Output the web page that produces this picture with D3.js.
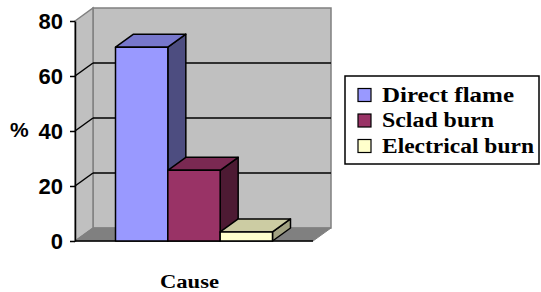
<!DOCTYPE html>
<html>
<head>
<meta charset="utf-8">
<script src="https://cdn.jsdelivr.net/npm/d3@7"></script>
<style>
  body { margin: 0; background: #fff; }
  svg { display: block; }
</style>
</head>
<body>
<div class="chart"></div>
<script>
// data
const categories = ["Cause"];
const seriesNames = ["Direct flame", "Sclad burn", "Electrical burn"];
const seriesValues = [70.5, 25.7, 3.3];
const yTicks = [0, 20, 40, 60, 80];

// colours: front, top, side
var frontCol = ["#9999ff", "#993366", "#ffffcc"];
var topCol = ["#7777cc", "#7a2952", "#cccca3"];
var sideCol = ["#4d4d80", "#4d1a33", "#a3a382"];

var W = 541, H = 292;
var plot = {left: 75, right: 313, top: 21, bottom: 241};
var depth = {dx: 18, dy: -13};

var svg = d3.select(".chart").append("svg")
    .attr("width", W).attr("height", H);

var yScale = d3.scaleLinear().domain([0, 80]).range([plot.bottom, plot.top]);

var xScale = d3.scaleBand().domain(categories)
    .range([plot.left, plot.right])
    .paddingInner(0).paddingOuter(0.258);

var sScale = d3.scaleBand().domain(seriesNames)
    .range([0, xScale.bandwidth()]).padding(0);

function pts(a) { return a.map(function(p){ return p.join(","); }).join(" "); }

// walls
var bx = plot.left + depth.dx, by = plot.top + depth.dy;
var bxr = plot.right + depth.dx, byb = plot.bottom + depth.dy;

svg.append("polygon") // back wall
    .attr("points", pts([[bx, by], [bxr, by], [bxr, byb], [bx, byb]]))
    .attr("fill", "#c0c0c0").attr("stroke", "#808080").attr("stroke-width", 1.5);

svg.append("polygon") // left wall
    .attr("points", pts([[plot.left, plot.top], [bx, by], [bx, byb], [plot.left, plot.bottom]]))
    .attr("fill", "#c0c0c0").attr("stroke", "#808080").attr("stroke-width", 1.5);

svg.append("polygon") // floor
    .attr("points", pts([[plot.left, plot.bottom], [plot.right, plot.bottom], [bxr, byb], [bx, byb]]))
    .attr("fill", "#808080").attr("stroke", "#808080").attr("stroke-width", 1);

// gridlines on back wall + left wall
var grid = yTicks.filter(function(t){ return t > 0 && t < 80; });
svg.selectAll(".gridb").data(grid).enter().append("line")
    .attr("x1", bx).attr("x2", bxr)
    .attr("y1", function(d){ return yScale(d) + depth.dy; })
    .attr("y2", function(d){ return yScale(d) + depth.dy; })
    .attr("stroke", "#000").attr("stroke-width", 1.5);
svg.selectAll(".gridl").data(grid).enter().append("line")
    .attr("x1", plot.left).attr("x2", bx)
    .attr("y1", function(d){ return yScale(d); })
    .attr("y2", function(d){ return yScale(d) + depth.dy; })
    .attr("stroke", "#000").attr("stroke-width", 1.5);

// floor front edge
svg.append("line")
    .attr("x1", plot.left).attr("x2", plot.right)
    .attr("y1", plot.bottom).attr("y2", plot.bottom)
    .attr("stroke", "#000").attr("stroke-width", 1.5);

// bars, left to right so later ones cover earlier sides
var cat = categories[0];
seriesNames.forEach(function(name, i){
  var x0 = xScale(cat) + sScale(name);
  var x1 = x0 + sScale.bandwidth();
  var yT = yScale(seriesValues[i]);
  var y0 = yScale(0);
  var g = svg.append("g").attr("stroke", "#000").attr("stroke-width", 1.5)
      .attr("stroke-linejoin", "round");
  g.append("polygon") // side
      .attr("points", pts([[x1, yT], [x1 + depth.dx, yT + depth.dy], [x1 + depth.dx, y0 + depth.dy], [x1, y0]]))
      .attr("fill", sideCol[i]);
  g.append("polygon") // top
      .attr("points", pts([[x0, yT], [x0 + depth.dx, yT + depth.dy], [x1 + depth.dx, yT + depth.dy], [x1, yT]]))
      .attr("fill", topCol[i]);
  g.append("rect") // front
      .attr("x", x0).attr("y", yT)
      .attr("width", x1 - x0).attr("height", y0 - yT)
      .attr("fill", frontCol[i]);
});

// y axis
var yAxis = d3.axisLeft(yScale).tickValues(yTicks)
    .tickSize(5).tickSizeOuter(0).tickPadding(7);
var ya = svg.append("g")
    .attr("transform", "translate(" + plot.left + ",0)")
    .call(yAxis);
ya.select(".domain").attr("stroke", "#000").attr("stroke-width", 1.5);
ya.selectAll(".tick line").attr("stroke", "#000").attr("stroke-width", 1.5);
ya.selectAll("text")
    .attr("font-family", "Liberation Sans, Arial, sans-serif")
    .attr("font-weight", "bold").attr("font-size", 22)
    .attr("fill", "#000");

svg.append("text")
    .attr("x", 10).attr("y", 137)
    .attr("font-family", "Liberation Sans, Arial, sans-serif")
    .attr("font-weight", "bold").attr("font-size", 21)
    .text("%");

// x axis title
svg.append("text")
    .attr("x", 160).attr("y", 288)
    .attr("font-family", "Liberation Serif, Times New Roman, serif")
    .attr("font-weight", "bold").attr("font-size", 18)
    .attr("textLength", 59).attr("lengthAdjust", "spacingAndGlyphs")
    .text(categories[0]);

// legend
var legend = svg.append("g");
legend.append("rect")
    .attr("x", 345).attr("y", 76).attr("width", 194).attr("height", 88)
    .attr("fill", "#fff").attr("stroke", "#000").attr("stroke-width", 1.5);

var legW = [132, 112, 152];
var rows = legend.selectAll(".row").data(seriesNames).enter().append("g")
    .attr("transform", function(d, i){ return "translate(358," + (95 + i * 25.5) + ")"; });
rows.append("rect")
    .attr("x", 0).attr("y", -6.5).attr("width", 13).attr("height", 13)
    .attr("fill", function(d, i){ return frontCol[i]; })
    .attr("stroke", "#000").attr("stroke-width", 1.2);
rows.append("text")
    .attr("x", 24).attr("y", 6.5)
    .attr("font-family", "Liberation Serif, Times New Roman, serif")
    .attr("font-weight", "bold").attr("font-size", 20)
    .attr("textLength", function(d, i){ return legW[i]; })
    .attr("lengthAdjust", "spacingAndGlyphs")
    .text(function(d){ return d; });
</script>
</body>
</html>
